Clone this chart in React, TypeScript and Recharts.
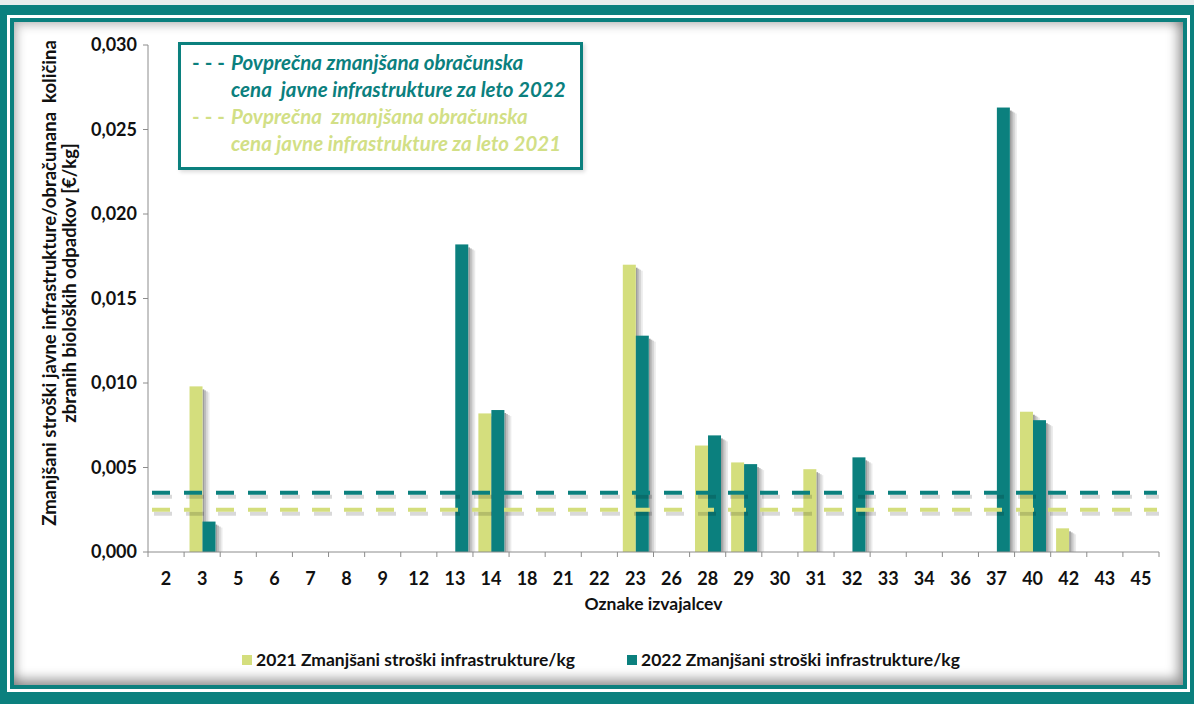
import React from "react";
import { BarChart, Bar, XAxis, YAxis, ReferenceLine, Legend } from "recharts";

// oznake izvajalcev
const categories = [
  "2", "3", "5", "6", "7", "8", "9", "12", "13", "14", "18", "21", "22", "23",
  "26", "28", "29", "30", "31", "32", "33", "34", "36", "37", "40", "42", "43", "45",
];

// €/kg, null = ni podatka
const values2021 = [
  null, 0.0098, null, null, null, null, null, null, null, 0.0082, null, null, null, 0.017,
  null, 0.0063, 0.0053, null, 0.0049, null, null, null, null, null, 0.0083, 0.0014, null, null,
];
const values2022 = [
  null, 0.0018, null, null, null, null, null, null, 0.0182, 0.0084, null, null, null, 0.0128,
  null, 0.0069, 0.0052, null, null, 0.0056, null, null, null, 0.0263, 0.0078, null, null, null,
];

const avg2022 = 0.0035;
const avg2021 = 0.0025;

const yTicks = [0, 0.005, 0.01, 0.015, 0.02, 0.025, 0.03];

const seriesNames = [
  "2021 Zmanjšani stroški infrastrukture/kg",
  "2022 Zmanjšani stroški infrastrukture/kg",
];

const TEAL = "#0b807e";
const LIME = "#d4de7d";
const LIME_TEXT = "#d2df86";
const FONT = "Lato, 'Open Sans', sans-serif";

const data = categories.map((c, i) => ({
  name: c,
  v2021: values2021[i],
  v2022: values2022[i],
}));

const fmt = (v: number) => v.toFixed(3).replace(".", ",");

// senca desno od stolpca, brez filtrov
const shadowSteps = [0.38, 0.26, 0.16, 0.08];

const ShadowBar = (props: any) => {
  const { x, y, width, height, fill } = props;
  if (!height) return null;
  return (
    <g>
      {shadowSteps.map((o, k) => (
        <rect
          key={k}
          x={x + width + k * 1.75}
          y={y + 3 + k}
          width={1.75}
          height={Math.max(height - 3 - k, 0)}
          fill="#000"
          fillOpacity={o}
        />
      ))}
      <rect x={x} y={y} width={width} height={height} fill={fill} />
    </g>
  );
};

const dashedLine = (color: string) => (p: any) => (
  <g>
    <line
      x1={p.x1 + 6}
      y1={p.y1 + 4}
      x2={p.x2}
      y2={p.y2 + 4}
      stroke="#000"
      strokeOpacity={0.15}
      strokeWidth={4}
      strokeDasharray="18 14"
    />
    <line
      x1={p.x1 + 4}
      y1={p.y1}
      x2={p.x2 - 2}
      y2={p.y2}
      stroke={color}
      strokeWidth={4}
      strokeDasharray="18 14"
    />
  </g>
);

const XTick = (props: any) => {
  const { x, y, payload, index, visibleTicksCount } = props;
  const half = payload.offset || 0;
  const last = index === visibleTicksCount - 1;
  return (
    <g>
      <line x1={x - half} x2={x - half} y1={y} y2={y + 5} stroke="#8c8c8c" />
      {last && <line x1={x + half} x2={x + half} y1={y} y2={y + 5} stroke="#8c8c8c" />}
      <text
        x={x}
        y={y + 33}
        textAnchor="middle"
        fontFamily={FONT}
        fontWeight={700}
        fontSize={18}
        fill="#111"
      >
        {payload.value}
      </text>
    </g>
  );
};

const YLabel = () => (
  <text
    transform="translate(0,283) rotate(-90)"
    textAnchor="middle"
    fontFamily={FONT}
    fontWeight={700}
    fontSize={18.5}
    fill="#111"
  >
    <tspan x={0} y={56} style={{ whiteSpace: "pre" }}>
      {"Zmanjšani stroški javne infrastrukture/obračunana  količina"}
    </tspan>
    <tspan x={0} y={76}>
      zbranih bioloških odpadkov [€/kg]
    </tspan>
  </text>
);

const BottomLegend = () => (
  <div
    style={{
      display: "flex",
      justifyContent: "center",
      gap: 52,
      fontFamily: FONT,
      fontWeight: 700,
      fontSize: 17.5,
      color: "#111",
    }}
  >
    {seriesNames.map((n, i) => (
      <span key={n} style={{ display: "flex", alignItems: "center", gap: 4 }}>
        <span
          style={{ width: 10, height: 10, background: i === 0 ? LIME : TEAL, display: "inline-block" }}
        />
        {n}
      </span>
    ))}
  </div>
);

const dash = { display: "inline-block", width: 39, whiteSpace: "pre" as const, fontStyle: "normal" };

const TopBox = () => (
  <div
    style={{
      position: "absolute",
      left: 178,
      top: 42,
      width: 405,
      height: 128,
      boxSizing: "border-box",
      border: `3px solid ${TEAL}`,
      background: "#fff",
      padding: "4px 0 0 11px",
      fontFamily: FONT,
      fontStyle: "italic",
      fontWeight: 700,
      fontSize: 20.5,
      lineHeight: "27px",
      whiteSpace: "pre",
      boxShadow: "2px 2px 4px rgba(0,0,0,0.15)",
    }}
  >
    <div style={{ color: TEAL }}>
      <span style={dash}>- - -</span>Povprečna zmanjšana obračunska
    </div>
    <div style={{ color: TEAL, paddingLeft: 39 }}>cena  javne infrastrukture za leto 2022</div>
    <div style={{ color: LIME_TEXT }}>
      <span style={dash}>- - -</span>Povprečna  zmanjšana obračunska
    </div>
    <div style={{ color: LIME_TEXT, paddingLeft: 39 }}>cena javne infrastrukture za leto 2021</div>
  </div>
);

export default function App() {
  return (
    <div
      style={{
        position: "absolute",
        left: 0,
        top: 0,
        width: 1194,
        height: 704,
        background: "#e8eded",
        overflow: "hidden",
      }}
    >
      {/* okvir */}
      <div
        style={{
          position: "absolute",
          left: 0,
          top: 5,
          width: 1194,
          height: 699,
          background: TEAL,
          boxSizing: "border-box",
          padding: "10px 4px 12px 7px",
        }}
      >
        <div style={{ width: "100%", height: "100%", background: "#fff", padding: 3, boxSizing: "border-box" }}>
          <div
            style={{
              width: "100%",
              height: "100%",
              boxSizing: "border-box",
              border: `4px solid ${TEAL}`,
              background: "#fff",
              boxShadow: "inset -5px -6px 12px rgba(0,0,0,0.4), inset 4px 4px 10px rgba(0,0,0,0.2)",
            }}
          />
        </div>
      </div>

      <div style={{ position: "absolute", left: 0, top: 0 }}>
        <BarChart
          width={1194}
          height={704}
          data={data}
          margin={{ top: 45, right: 35, left: 0, bottom: 92 }}
          barCategoryGap="15%"
          barGap={0}
        >
          <XAxis
            dataKey="name"
            height={60}
            stroke="#8c8c8c"
            tickLine={false}
            tickSize={0}
            tickMargin={0}
            interval={0}
            tick={<XTick />}
            label={{
              value: "Oznake izvajalcev",
              position: "insideBottom",
              offset: 0,
              dy: -2,
              fontFamily: FONT,
              fontWeight: 700,
              fontSize: 17.5,
              fill: "#111",
            }}
          />
          <YAxis
            width={148}
            domain={[0, 0.03]}
            ticks={yTicks}
            tickFormatter={fmt}
            stroke="#8c8c8c"
            tickSize={5}
            tickMargin={6}
            tick={{ fontFamily: FONT, fontWeight: 700, fontSize: 18, fill: "#111" }}
            label={<YLabel />}
          />
          <Legend
            layout="horizontal"
            verticalAlign="middle"
            align="center"
            content={<BottomLegend />}
            wrapperStyle={{ position: "absolute", top: 649, left: 4, width: 1194 }}
          />
          <Bar dataKey="v2021" name={seriesNames[0]} fill={LIME} shape={<ShadowBar />} isAnimationActive={false} />
          <Bar dataKey="v2022" name={seriesNames[1]} fill={TEAL} shape={<ShadowBar />} isAnimationActive={false} />
          <ReferenceLine y={avg2022} shape={dashedLine(TEAL)} />
          <ReferenceLine y={avg2021} shape={dashedLine(LIME)} />
        </BarChart>
      </div>

      <TopBox />
    </div>
  );
}
